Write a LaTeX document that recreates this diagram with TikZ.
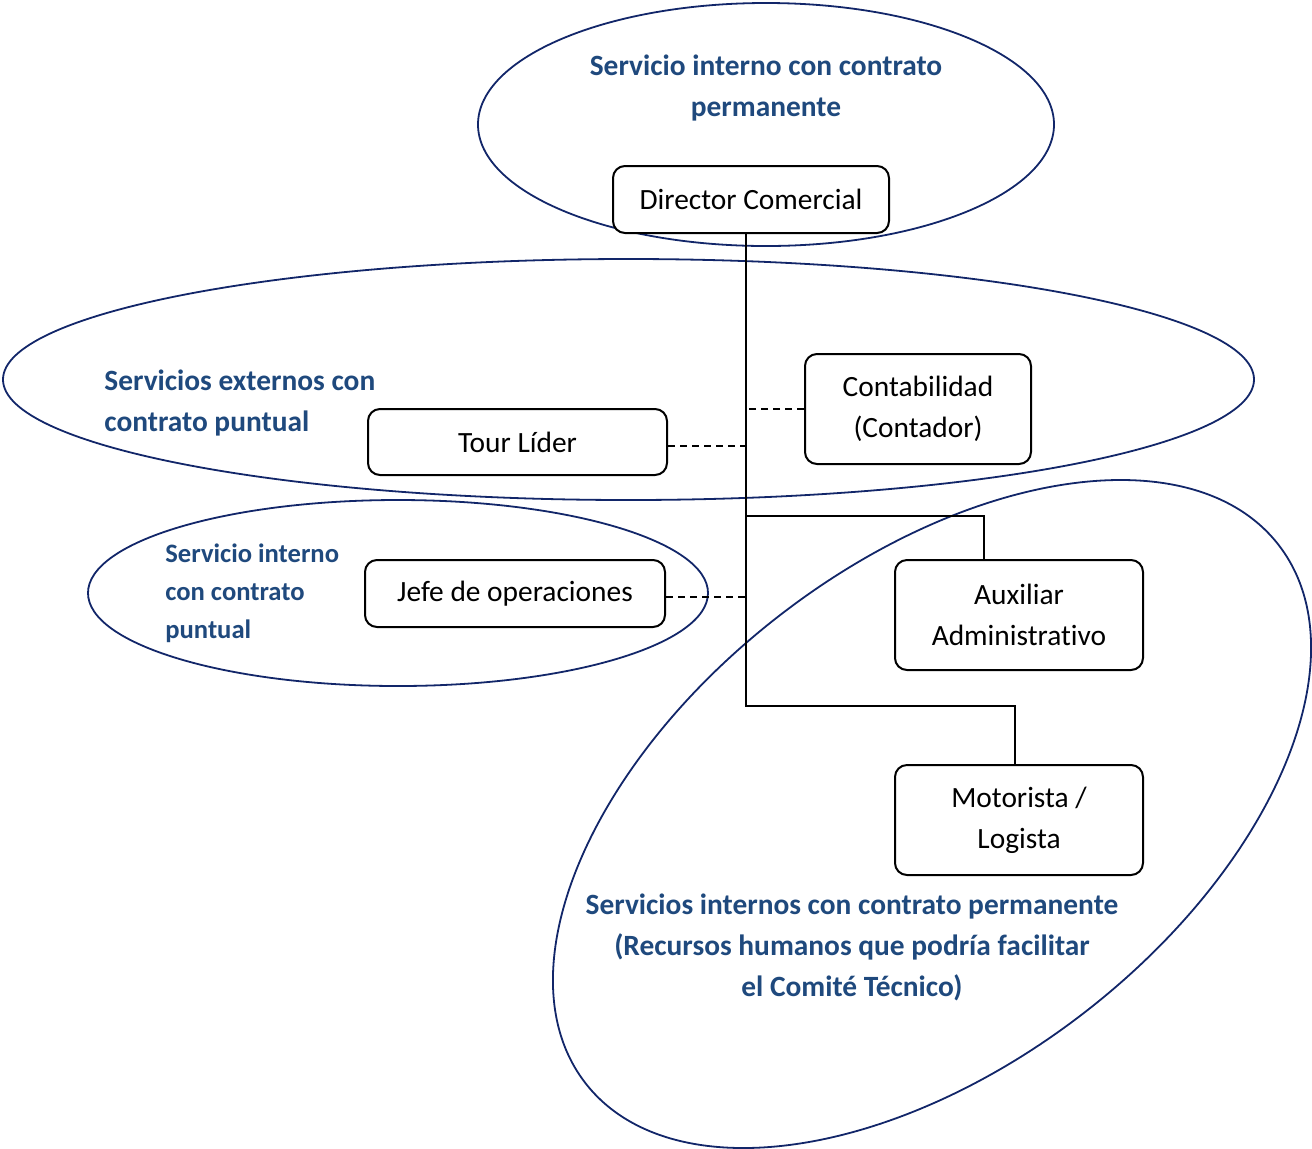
\documentclass[tikz,border=0pt]{standalone}
\usepackage{fontspec}
\setmainfont{Carlito}[RawFeature={-liga;-clig;-dlig;-calt}]
\usetikzlibrary{shapes.geometric}
\definecolor{txtblue}{RGB}{31,73,125}
\definecolor{ellblue}{RGB}{18,38,105}
\begin{document}
\begin{tikzpicture}[x=0.5pt,y=-0.5pt,
  orgbox/.style={draw=black,line width=1pt,rounded corners=6pt,fill=white,align=center,
    font=\fontsize{14.7}{20.5}\selectfont,inner sep=0pt},
  oval/.style={draw=ellblue,line width=0.9pt,ellipse,inner sep=0pt},
  grp/.style={text=txtblue,font=\bfseries\fontsize{14.7}{20.5}\selectfont,inner sep=0pt},
  conn/.style={line width=1pt},
  dconn/.style={line width=1pt,dash pattern=on 3.5pt off 2.5pt}]
\useasboundingbox (0,0) rectangle (1312,1148);
% group ellipses
\node[oval,minimum width=288pt,minimum height=121.5pt] (etop) at (766,124.5) {};
\node[oval,minimum width=625.5pt,minimum height=120.5pt] (emid) at (628.5,379.5) {};
\node[oval,minimum width=310pt,minimum height=93pt] (eleft) at (398,593) {};
\node[oval,minimum width=438.8pt,minimum height=250.3pt,rotate=37.85] (ebot) at (932,814) {};
% group labels
\node[grp,align=center] (ltop) at (766,88) {Servicio interno con contrato\\permanente};
\node[grp,align=left,anchor=west] (lmid) at (104,403) {Servicios externos con\\contrato puntual};
\node[grp,align=left,anchor=west,font=\bfseries\fontsize{13.3}{19}\selectfont] (lleft) at (165,593) {Servicio interno\\con contrato\\puntual};
\node[grp,align=center] (lbot) at (852,947) {Servicios internos con contrato permanente\\(Recursos humanos que podría facilitar\\el Comité Técnico)};
% boxes
\node[orgbox,minimum width=138pt,minimum height=33.5pt] (dc) at (751,199.5) {Director Comercial};
\node[orgbox,minimum width=113pt,minimum height=55pt] (cont) at (918,409) {Contabilidad\\(Contador)};
\node[orgbox,minimum width=149.5pt,minimum height=33pt] (tour) at (517.5,442) {Tour Líder};
\node[orgbox,minimum width=150pt,minimum height=33.5pt] (jefe) at (515,593.5) {Jefe de operaciones};
\node[orgbox,minimum width=124pt,minimum height=55pt] (aux) at (1019,615) {Auxiliar\\Administrativo};
\node[orgbox,minimum width=124pt,minimum height=55pt] (mot) at (1019,820) {Motorista /\\Logista};
% connectors
\coordinate (t0) at (746,233);
\coordinate (ta) at (746,516);
\coordinate (t1) at (746,706);
\draw[conn] (t0) -- (t1) -| ([xshift=-2pt]mot.north);
\draw[conn] (ta) -| ([xshift=-17.5pt]aux.north);
\draw[dconn] (cont.west) -- (cont.west -| t0);
\draw[dconn] ([yshift=-2pt]tour.east) -- ([yshift=-2pt]tour.east -| t0);
\draw[dconn] ([yshift=-1.75pt]jefe.east) -- ([yshift=-1.75pt]jefe.east -| t0);
\end{tikzpicture}
\end{document}
